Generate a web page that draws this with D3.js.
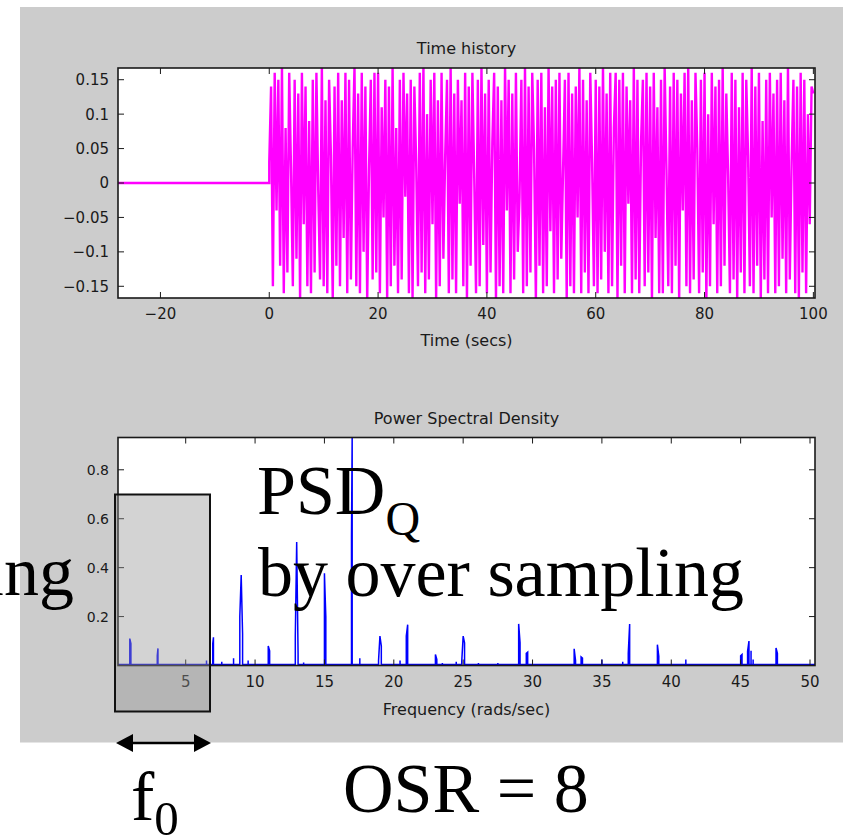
<!DOCTYPE html>
<html lang="en">
<head>
<meta charset="utf-8">
<style>
  html, body { margin: 0; padding: 0; background: #fff; }
  svg { display: block; }
  .lbl { font-family: "DejaVu Sans", sans-serif; fill: #1a1a1a; }
  .serif { font-family: "Liberation Serif", "Times New Roman", serif; fill: #000; }
</style>
</head>
<body>
<svg width="843" height="840"></svg>
<script src="https://cdn.jsdelivr.net/npm/d3@7/dist/d3.min.js"></script>
<script>
const width = 843, height = 840

// ---- time history: zero before the start, then samples every 1/3 s ----
const preTrigger = [[-27.8, 0], [0, 0]]
const sampleStep = 1 / 3
const timeValues = [
  .03, .14, -.15, .16, -.04, .15, -.12, .17, -.16, .08, -.13, .16, .02, -.15, .15, -.11, .13, -.17, .16, -.06,
  .14, -.15, .09, -.16, .15, -.13, .16, -.01, -.14, .17, -.15, .12, -.16, .15, .04, -.17, .14, -.12, .16, -.15,
  .12, -.08, .16, -.16, .15, -.14, .05, .17, -.15, .13, -.16, .16, -.10, .14, -.17, .02, .15, -.14, .16, -.13,
  .16, -.16, .11, -.05, .15, -.17, .14, -.15, .17, -.12, .08, -.16, .15, -.14, .16, -.02, .13, -.16, .15, -.17,
  .14, .03, -.15, .16, -.13, .17, -.16, .10, -.14, .15, -.06, .16, -.17, .12, -.15, .16, -.11, .04, .15, -.16,
  .17, -.14, .13, -.16, .15, -.03, .12, -.15, .16, -.17, .14, -.12, .16, .01, -.16, .15, -.15, .17, -.09, .13,
  -.16, .15, -.13, .06, .16, -.17, .14, -.15, .12, -.16, .17, -.04, .15, -.16, .13, -.14, .16, -.10, -.02, .15,
  -.16, .17, -.15, .14, -.13, .16, .05, -.17, .15, -.12, .16, -.16, .11, -.15, .17, -.07, .14, -.16, .15, -.14,
  .16, -.11, .02, .15, -.17, .16, -.15, .13, -.16, .14, -.05, .17, -.16, .15, -.13, .12, -.16, .16, .03, -.15,
  .15, -.16, .14, -.14, .17, -.10, .13, -.16, .16, -.15, .08, .16, -.17, .15, -.12, .16, -.16, .14, -.03, .12,
  -.16, .17, -.14, .15, -.16, .06, .15, -.15, .16, -.13, .14, -.17, .16, -.08, .11, -.16, .15, -.16, .17, .02,
  -.15, .14, -.16, .16, -.12, .15, -.17, .13, -.04, .16, -.15, .17, -.16, .12, -.14, .16, .05, -.16, .15, -.13,
  .16, -.17, .10, -.15, .16, -.06, .14, -.16, .15, -.15, .17, -.12, .13, .01, -.16, .16, -.14, .15, -.17, .11,
  -.13, .16, -.16, .15, .04, -.15, .17, -.16, .14, -.12, .16, -.17, .09, -.14, .15, -.16, .16, -.05, .13, -.16,
  .15, -.15, .16, -.11, .12, -.16, .17, -.14, .03, .15, -.16, .14, -.17, .16, -.13, .15, -.16, .10, -.06, .14,
  .13
]
const timeDomain = [-27.8, 100.3]
const ampDomain = [-0.167, 0.167]
const timeTicks = [-20, 0, 20, 40, 60, 80, 100]
const ampTicks = [-0.15, -0.1, -0.05, 0, 0.05, 0.1, 0.15]
const ampTickLabels = ["\u22120.15", "\u22120.1", "\u22120.05", "0", "0.05", "0.1", "0.15"]

// ---- power spectral density: floor level and spikes [rad/s, level] ----
const psdFloor = 0.004
const psdPeaks = [
  [0.97, .11], [1.05, .09], [2.95, .04], [3.0, .07], [6.5, .02], [6.95, .09], [7.0, .115],
  [7.6, .015], [8.45, .03], [8.9, .2], [9.0, .37], [9.1, .13], [9.5, .02], [10.95, .08],
  [11.05, .06], [12.9, .12], [13.0, .505], [13.1, .05], [13.5, .012], [15.0, .377], [15.1, .2],
  [16.95, .53], [17.0, .95], [17.55, .03], [18.9, .02], [19.0, .12], [19.1, .08], [20.45, .02],
  [20.9, .12], [21.0, .167], [23.0, .045], [23.1, .025], [23.5, .01], [24.5, .015], [24.9, .02],
  [25.0, .12], [25.1, .093], [26.1, .01], [27.5, .01], [29.0, .17], [29.1, .093], [29.55, .05],
  [29.65, .055], [33.0, .068], [33.1, .02], [33.5, .035], [33.6, .03], [35.0, .025], [36.5, .015],
  [36.9, .05], [37.0, .17], [39.0, .085], [39.1, .038], [41.05, .025], [45.0, .04], [45.1, .045],
  [45.5, .058], [45.6, .1], [45.75, .06], [45.9, .025], [47.55, .072], [47.65, .05]
]
const freqDomain = [0.12, 50.36]
const psdDomain = [0, 0.932]
const freqTicks = [5, 10, 15, 20, 25, 30, 35, 40, 45, 50]
const psdTicks = [0.2, 0.4, 0.6, 0.8]

const svg = d3.select("svg")

// figure background
svg.append("rect")
  .attr("x", 20).attr("y", 7)
  .attr("width", width - 20).attr("height", 735.5)
  .attr("fill", "#cccccc")

function drawAxes (box, x, y, xTicks, yTicks, yLabels, opts) {
  const g = svg.append("g")
  g.append("rect")
    .attr("x", box.x0).attr("y", box.y0)
    .attr("width", box.x1 - box.x0).attr("height", box.y1 - box.y0)
    .attr("fill", "#fff")

  const clipId = "clip" + opts.id
  svg.append("clipPath").attr("id", clipId)
    .append("rect")
    .attr("x", box.x0).attr("y", box.y0)
    .attr("width", box.x1 - box.x0).attr("height", box.y1 - box.y0)

  const plot = svg.append("g").attr("clip-path", `url(#${clipId})`)

  const frame = svg.append("g")
  const tl = 6
  xTicks.forEach(t => {
    frame.append("line").attr("x1", x(t)).attr("x2", x(t)).attr("y1", box.y1).attr("y2", box.y1 - tl)
      .attr("stroke", "#1a1a1a")
    frame.append("line").attr("x1", x(t)).attr("x2", x(t)).attr("y1", box.y0).attr("y2", box.y0 + tl)
      .attr("stroke", "#1a1a1a")
    frame.append("text").attr("class", "lbl")
      .attr("x", x(t)).attr("y", opts.xLabelY)
      .attr("text-anchor", "middle")
      .attr("font-size", opts.xFont)
      .text(t < 0 ? "\u2212" + Math.abs(t) : t)
  })
  yTicks.forEach((t, i) => {
    frame.append("line").attr("y1", y(t)).attr("y2", y(t)).attr("x1", box.x0).attr("x2", box.x0 + tl)
      .attr("stroke", "#1a1a1a")
    frame.append("line").attr("y1", y(t)).attr("y2", y(t)).attr("x1", box.x1).attr("x2", box.x1 - tl)
      .attr("stroke", "#1a1a1a")
    frame.append("text").attr("class", "lbl")
      .attr("x", box.x0 - 9).attr("y", y(t))
      .attr("dy", "0.36em")
      .attr("text-anchor", "end")
      .attr("font-size", opts.yFont)
      .text(yLabels[i])
  })
  frame.append("rect")
    .attr("x", box.x0).attr("y", box.y0)
    .attr("width", box.x1 - box.x0).attr("height", box.y1 - box.y0)
    .attr("fill", "none").attr("stroke", "#1a1a1a").attr("stroke-width", 1.6)

  frame.append("text").attr("class", "lbl")
    .attr("x", (box.x0 + box.x1) / 2).attr("y", opts.titleY)
    .attr("text-anchor", "middle").attr("font-size", 16)
    .text(opts.title)
  frame.append("text").attr("class", "lbl")
    .attr("x", (box.x0 + box.x1) / 2).attr("y", opts.xTitleY)
    .attr("text-anchor", "middle").attr("font-size", 16)
    .text(opts.xTitle)

  return plot
}

// ---- top: time history ----
const topBox = { x0: 118, x1: 815, y0: 68, y1: 298 }
const xT = d3.scaleLinear().domain(timeDomain).range([topBox.x0, topBox.x1])
const yT = d3.scaleLinear().domain(ampDomain).range([topBox.y1, topBox.y0])

const topPlot = drawAxes(topBox, xT, yT, timeTicks, ampTicks, ampTickLabels, {
  id: "t", xLabelY: 319, xFont: 15, yFont: 15,
  title: "Time history", titleY: 54,
  xTitle: "Time (secs)", xTitleY: 346
})

const timePoints = preTrigger.concat(timeValues.map((v, i) => [i * sampleStep, v]))
topPlot.append("path")
  .datum(timePoints)
  .attr("fill", "none")
  .attr("stroke", "#ff00ff")
  .attr("stroke-width", 2.4)
  .attr("d", d3.line().x(d => xT(d[0])).y(d => yT(d[1])))

// ---- bottom: power spectral density ----
const botBox = { x0: 118, x1: 815, y0: 437.5, y1: 665.5 }
const xF = d3.scaleLinear().domain(freqDomain).range([botBox.x0, botBox.x1])
const yP = d3.scaleLinear().domain(psdDomain).range([botBox.y1, botBox.y0])

const botPlot = drawAxes(botBox, xF, yP, freqTicks, psdTicks, psdTicks.map(String), {
  id: "p", xLabelY: 687, xFont: 15, yFont: 14,
  title: "Power Spectral Density", titleY: 424,
  xTitle: "Frequency (rads/sec)", xTitleY: 715
})

// spikes rising from the floor; neighbouring bins join at their tops
const psdPoints = [[freqDomain[0], psdFloor]]
psdPeaks.forEach((p, i) => {
  const prev = psdPeaks[i - 1]
  if (prev && p[0] - prev[0] < 0.12) {
    psdPoints.push(p)
  } else {
    if (prev) psdPoints.push([prev[0], psdFloor])
    psdPoints.push([p[0], psdFloor], p)
  }
})
psdPoints.push([psdPeaks[psdPeaks.length - 1][0], psdFloor], [freqDomain[1], psdFloor])

botPlot.append("path")
  .datum(psdPoints)
  .attr("fill", "none")
  .attr("stroke", "#0000ff")
  .attr("stroke-width", 1.5)
  .attr("d", d3.line().x(d => xF(d[0])).y(d => yP(d[1])))

// ---- annotations ----
svg.append("rect")
  .attr("x", 115).attr("y", 494.5)
  .attr("width", 95).attr("height", 217)
  .attr("fill", "rgb(148,148,148)").attr("fill-opacity", 0.41)
  .attr("stroke", "#111").attr("stroke-width", 2)

const arrowY = 743
svg.append("line")
  .attr("x1", 128).attr("x2", 199).attr("y1", arrowY).attr("y2", arrowY)
  .attr("stroke", "#000").attr("stroke-width", 2.5)
svg.append("path").attr("d", `M116,${arrowY} L133,${arrowY - 9} L133,${arrowY + 9} Z`).attr("fill", "#000")
svg.append("path").attr("d", `M211,${arrowY} L194,${arrowY - 9} L194,${arrowY + 9} Z`).attr("fill", "#000")

const f0 = svg.append("text").attr("class", "serif")
  .attr("x", 131).attr("y", 820).attr("font-size", 70)
f0.append("tspan").text("f")
f0.append("tspan").attr("font-size", 49).attr("dy", 15).text("0")

const psdq = svg.append("text").attr("class", "serif")
  .attr("x", 257).attr("y", 514).attr("font-size", 70)
psdq.append("tspan").text("PSD")
psdq.append("tspan").attr("font-size", 48).attr("dy", 21).text("Q")

svg.append("text").attr("class", "serif")
  .attr("x", 258).attr("y", 596).attr("font-size", 70)
  .text("by over sampling")

svg.append("text").attr("class", "serif")
  .attr("x", 74).attr("y", 595).attr("font-size", 70)
  .attr("text-anchor", "end")
  .text("ing")

svg.append("text").attr("class", "serif")
  .attr("x", 343).attr("y", 812).attr("font-size", 70)
  .text("OSR = 8")
</script>
</body>
</html>
